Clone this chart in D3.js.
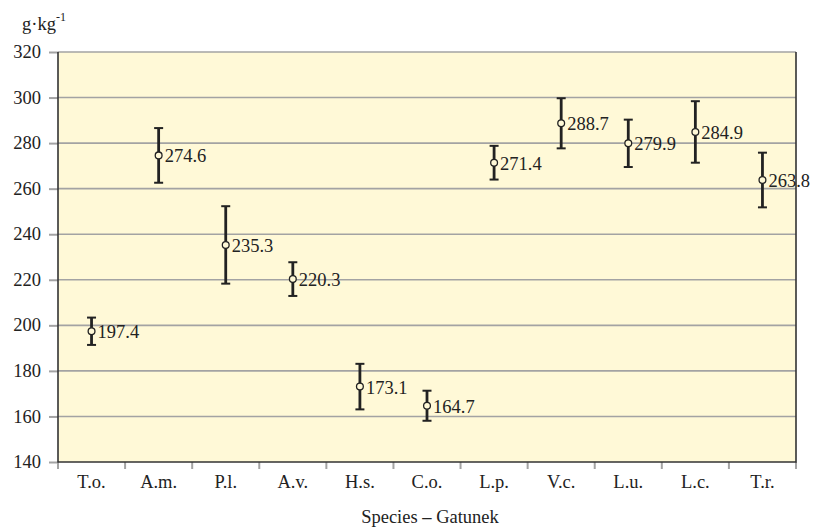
<!DOCTYPE html>
<html>
<head>
<meta charset="utf-8">
<script src="https://cdn.jsdelivr.net/npm/d3@7/dist/d3.min.js"></script>
<style>
  body { margin: 0; background: #fff; }
  svg { display: block; }
  svg text { font-family: "Liberation Serif", Tinos, "Times New Roman", Times, serif; fill: #222; }
</style>
</head>
<body>
<svg id="chart" width="814" height="529"></svg>
<script>
// Species codes along the x axis
const species = ["T.o.", "A.m.", "P.l.", "A.v.", "H.s.", "C.o.", "L.p.", "V.c.", "L.u.", "L.c.", "T.r."];
// Mean content, g·kg-1
const means = [197.4, 274.6, 235.3, 220.3, 173.1, 164.7, 271.4, 288.7, 279.9, 284.9, 263.8];
// Half-width of each error bar
const errors = [6.0, 12.0, 17.0, 7.4, 10.0, 6.6, 7.4, 11.0, 10.4, 13.5, 12.0];
// Y axis ticks
const yTicks = [140, 160, 180, 200, 220, 240, 260, 280, 300, 320];

const FONT = "'Liberation Serif', Tinos, 'Times New Roman', Times, serif";
const FS = 18.5;
const svg = d3.select("#chart");
const margin = { left: 58, right: 18, top: 52, bottom: 67 };
const W = 814, H = 529;
const x0 = margin.left, x1 = W - margin.right;
const y0 = H - margin.bottom, y1 = margin.top;

const x = d3.scaleBand().domain(species).range([x0, x1]);
const y = d3.scaleLinear().domain([140, 320]).range([y0, y1]);

// Plot background
svg.append("rect")
  .attr("x", x0).attr("y", y1)
  .attr("width", x1 - x0).attr("height", y0 - y1)
  .attr("fill", "#FFF9D7");

// Y axis: short outer ticks and labels
const yAxis = svg.append("g")
  .attr("transform", `translate(${x0},0)`)
  .call(d3.axisLeft(y).tickValues(yTicks).tickSize(9).tickPadding(8));
yAxis.attr("font-family", FONT).attr("font-size", FS);
yAxis.select(".domain").remove();
yAxis.selectAll(".tick line").attr("stroke", "#A3A3A3").attr("stroke-width", 2);
yAxis.selectAll(".tick text").attr("fill", "#222").attr("dy", "0.3em");

// Horizontal gridlines
svg.append("g").selectAll("line")
  .data(yTicks.filter(t => t > 140))
  .join("line")
  .attr("x1", x0).attr("x2", x1)
  .attr("y1", d => y(d)).attr("y2", d => y(d))
  .attr("stroke", "#A3A3A3").attr("stroke-width", 1.6);

// Bottom axis: ticks sit on the category boundaries
const bounds = species.map(s => x(s)).concat([x1]);
svg.append("g").selectAll("line")
  .data(bounds)
  .join("line")
  .attr("x1", d => d).attr("x2", d => d)
  .attr("y1", y0).attr("y2", y0 + 7)
  .attr("stroke", "#A3A3A3").attr("stroke-width", 2);

svg.append("g").selectAll("text")
  .data(species)
  .join("text")
  .attr("x", d => x(d) + x.bandwidth() / 2)
  .attr("y", y0 + 26)
  .attr("text-anchor", "middle")
  .style("font-size", FS + "px")
  .text(d => d);

// Frame: left, bottom and right edges
svg.append("path")
  .attr("d", `M${x0},${y1}V${y0}H${x1}V${y1}`)
  .attr("fill", "none").attr("stroke", "#333").attr("stroke-width", 1.6);

// Error bars with caps
const data = species.map((s, i) => ({ s, m: means[i], e: errors[i] }));
const g = svg.append("g");
const cx = d => x(d.s) + x.bandwidth() / 2;

g.selectAll("line.bar").data(data).join("line").attr("class", "bar")
  .attr("x1", cx).attr("x2", cx)
  .attr("y1", d => y(d.m + d.e)).attr("y2", d => y(d.m - d.e))
  .attr("stroke", "#222").attr("stroke-width", 2.8);
["top", "bot"].forEach(k => {
  g.selectAll("line.cap-" + k).data(data).join("line").attr("class", "cap-" + k)
    .attr("x1", d => cx(d) - 4.5).attr("x2", d => cx(d) + 4.5)
    .attr("y1", d => y(k === "top" ? d.m + d.e : d.m - d.e))
    .attr("y2", d => y(k === "top" ? d.m + d.e : d.m - d.e))
    .attr("stroke", "#222").attr("stroke-width", 2);
});

// Mean markers
g.selectAll("circle").data(data).join("circle")
  .attr("cx", cx).attr("cy", d => y(d.m)).attr("r", 3.4)
  .attr("fill", "#FFF9D7").attr("stroke", "#222").attr("stroke-width", 1.3);

// Value labels
g.selectAll("text.val").data(data).join("text").attr("class", "val")
  .attr("x", d => cx(d) + 6).attr("y", d => y(d.m) + 7)
  .style("font-size", FS + "px")
  .text(d => d.m.toFixed(1));

// Unit label
const unit = svg.append("text").attr("x", 22).attr("y", 30).style("font-size", FS + "px");
unit.append("tspan").text("g·kg");
unit.append("tspan").attr("dy", -9).style("font-size", "12px").text("-1");

// X axis title
const title = svg.append("text")
  .attr("x", (x0 + x1) / 2 + 3).attr("y", 523)
  .attr("text-anchor", "middle").style("font-size", FS + "px");
title.append("tspan").text("Species ");
title.append("tspan").style("font-weight", "bold").text("–");
title.append("tspan").text(" Gatunek");
</script>
</body>
</html>
